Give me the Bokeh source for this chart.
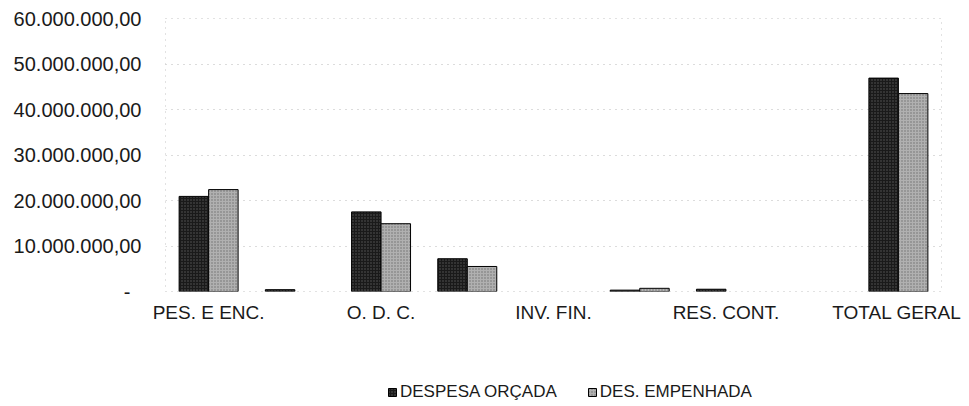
from bokeh.plotting import figure
from bokeh.layouts import column
from bokeh.models import ColumnDataSource, FixedTicker, Legend, LegendItem
from bokeh.transform import dodge
from bokeh.embed import file_html
from bokeh.resources import INLINE

# ---- data ----
tick_labels = ["PES. E ENC.", "", "O. D. C.", "", "INV. FIN.", "", "RES. CONT.", "", "TOTAL GERAL"]
despesa_orcada = [20.9e6, 0.4e6, 17.5e6, 7.2e6, 0.0, 0.3e6, 0.5e6, 0.0, 46.9e6]
des_empenhada = [22.4e6, 0.0, 14.9e6, 5.5e6, 0.0, 0.7e6, 0.0, 0.0, 43.5e6]
y_ticks = [0, 10e6, 20e6, 30e6, 40e6, 50e6, 60e6]
y_tick_labels = ["-\u00a0\u00a0", "10.000.000,00", "20.000.000,00", "30.000.000,00",
                 "40.000.000,00", "50.000.000,00", "60.000.000,00"]
series_names = ["DESPESA ORÇADA", "DES. EMPENHADA"]

xs = list(range(1, len(tick_labels) + 1))
src = ColumnDataSource(dict(
    x=xs,
    orc=despesa_orcada,
    emp=des_empenhada,
    lc_orc=["black" if v > 0 else None for v in despesa_orcada],
    lc_emp=["black" if v > 0 else None for v in des_empenhada],
))

FONT = "Liberation Sans"
TXT = "#1a1a1a"
STYLE1 = dict(fill_color="#1a1a1a", hatch_pattern="dot", hatch_color="#5a5a5a",
              hatch_scale=3, hatch_weight=1)
STYLE2 = dict(fill_color="#b0b0b0", hatch_pattern="dot", hatch_color="#6c6c6c",
              hatch_scale=3, hatch_weight=1)

p = figure(width=961, height=335, x_range=(0.5, len(xs) + 0.5), y_range=(0, 60e6),
           output_backend="svg", toolbar_location=None,
           min_border_left=165, min_border_right=20, min_border_top=18, min_border_bottom=44)
p.background_fill_color = "white"
p.border_fill_color = "white"
p.outline_line_color = "#c4c4c4"
p.outline_line_dash = "1 5"

bw = 0.342
p.vbar(x=dodge("x", -bw / 2, range=p.x_range), top="orc", width=bw, source=src,
       line_color="lc_orc", line_width=1, **STYLE1)
p.vbar(x=dodge("x", bw / 2, range=p.x_range), top="emp", width=bw, source=src,
       line_color="lc_emp", line_width=1, **STYLE2)

# grid
p.xgrid.grid_line_color = None
p.ygrid.grid_line_color = "#b8b8b8"
p.ygrid.grid_line_dash = "1 5"
p.ygrid.ticker = FixedTicker(ticks=y_ticks)

# y axis
p.yaxis.ticker = FixedTicker(ticks=y_ticks)
p.yaxis.major_label_overrides = {t: l for t, l in zip(y_ticks, y_tick_labels)}
p.yaxis.axis_line_color = None
p.yaxis.major_tick_line_color = None
p.yaxis.minor_tick_line_color = None
p.yaxis.major_label_standoff = 18
p.yaxis.major_label_text_font = FONT
p.yaxis.major_label_text_font_size = "20px"
p.yaxis.major_label_text_color = TXT

# x axis
shown = [x for x, l in zip(xs, tick_labels) if l]
p.xaxis.ticker = FixedTicker(ticks=shown)
p.xaxis.major_label_overrides = {x: l for x, l in zip(xs, tick_labels) if l}
p.xaxis.axis_line_color = None
p.xaxis.major_tick_line_color = None
p.xaxis.minor_tick_line_color = None
p.xaxis.major_label_standoff = 4
p.xaxis.major_label_text_font = FONT
p.xaxis.major_label_text_font_size = "19px"
p.xaxis.major_label_text_color = TXT

# legend strip below the chart (legend swatches come from off-range dummy bars)
pl = figure(width=961, height=67, x_range=(0, 1), y_range=(0, 1),
            output_backend="svg", toolbar_location=None,
            x_axis_type=None, y_axis_type=None, min_border=0)
pl.grid.grid_line_color = None
pl.outline_line_color = None
pl.background_fill_color = "white"
pl.border_fill_color = "white"
l1 = pl.vbar(x=[-10], top=[0], width=0.1, line_color="black", line_width=1, **STYLE1)
l2 = pl.vbar(x=[-10], top=[0], width=0.1, line_color="black", line_width=1, **STYLE2)

legend = Legend(items=[LegendItem(label=series_names[0], renderers=[l1]),
                       LegendItem(label=series_names[1], renderers=[l2])],
                orientation="horizontal", location=(222, 0),
                padding=0, margin=0, spacing=30, label_standoff=3,
                glyph_width=10, glyph_height=10,
                label_text_font=FONT, label_text_font_size="17px", label_text_color=TXT,
                border_line_color=None, background_fill_alpha=0)
pl.add_layout(legend, "center")

layout = column(p, pl, spacing=0)
open("out.html", "w").write(file_html(layout, INLINE))
